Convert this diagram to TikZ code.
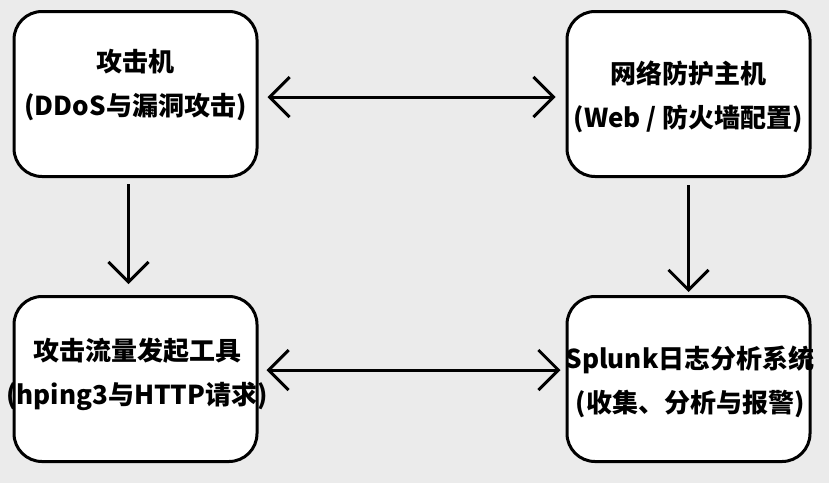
\documentclass[tikz,border=0pt]{standalone}
\usepackage{fontspec}
\newfontfamily\cjk{Noto Sans CJK SC}
\usetikzlibrary{arrows.meta}
\definecolor{bggray}{HTML}{EBEBEB}

\begin{document}
\begin{tikzpicture}[x=1pt,y=-1pt]
\tikzstyle{box}=[draw=black, line width=3pt, fill=white, rounded corners=28pt, minimum width=243pt, minimum height=165pt, inner sep=0pt]
\tikzstyle{lbl}=[align=center, inner sep=0pt, font=\cjk\bfseries\fontsize{26}{44}\selectfont]
\tikzstyle{link}=[line width=3pt, -{Straight Barb[length=20pt,width=40pt]}]
\tikzstyle{twoway}=[line width=3pt, {Straight Barb[length=20pt,width=40pt]}-{Straight Barb[length=20pt,width=40pt]}]
\fill [bggray] (0,0) rectangle (829,483);
\useasboundingbox (0,0) rectangle (829,483);
% boxes
\node [box] (atk) at (135.5,94) {};
\node [box] (def) at (688.5,94) {};
\node [box] (tool) at (135.5,379) {};
\node [box] (splk) at (688.5,379) {};
% labels
\node [lbl] (atkt) at (135.5,85) {攻击机\\(DDoS与漏洞攻击)};
\node [lbl] (deft) at (688.5,97) {网络防护主机\\(Web / 防火墙配置)};
\node [lbl] (toolt) at (137,374) {攻击流量发起工具\\(hping3与HTTP请求)};
\node [lbl] (splkt) at (690,382) {Splunk日志分析系统\\(收集、分析与报警)};
% connectors
\draw [twoway, shorten <=9pt, shorten >=10pt] ([yshift=-3pt]atk.east) -- ([yshift=-3pt]def.west);
\draw [twoway, shorten <=8pt, shorten >=5pt] ([yshift=9pt]tool.east) -- ([yshift=9pt]splk.west);
\draw [link, shorten <=6pt, shorten >=11pt] ([xshift=-7pt]atk.south) -- ([xshift=-7pt]tool.north);
\draw [link, shorten <=7pt, shorten >=3pt] (def.south) -- (splk.north);
\end{tikzpicture}
\end{document}
